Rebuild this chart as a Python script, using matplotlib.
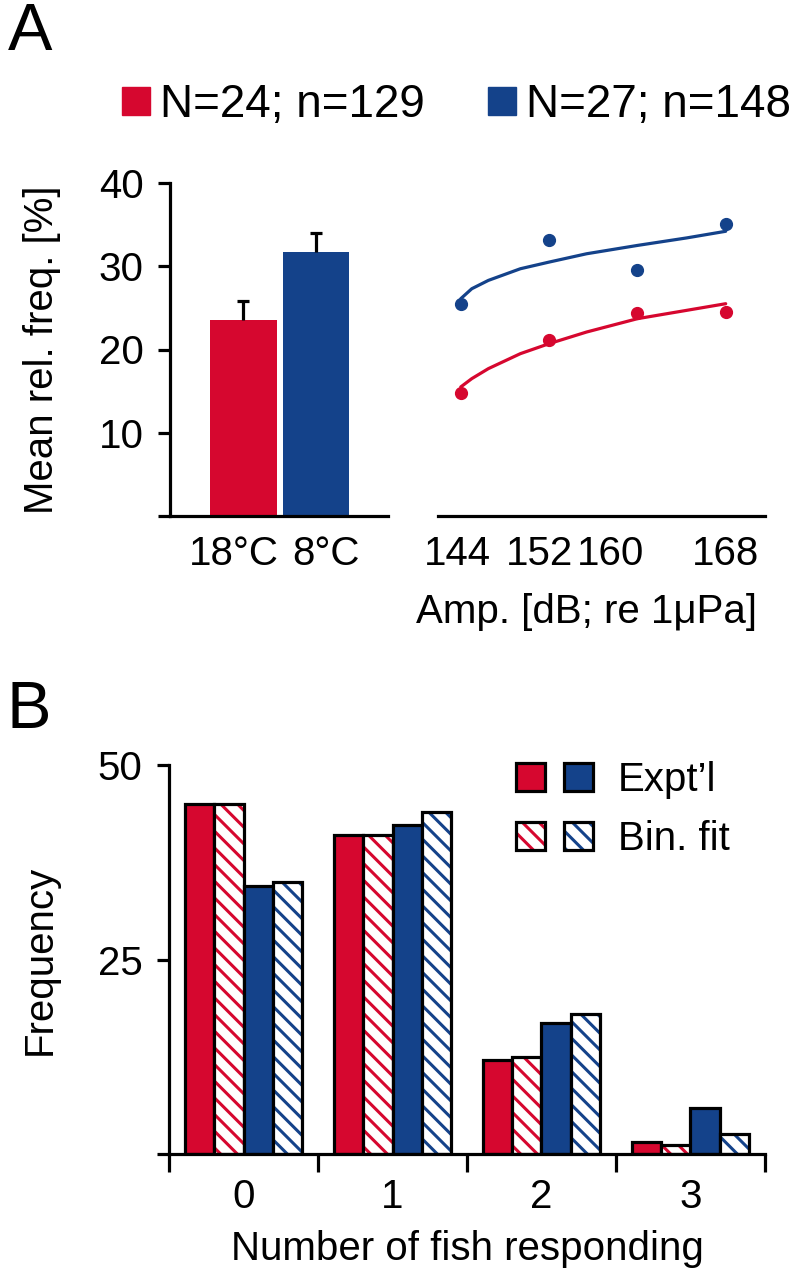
import numpy as np
import matplotlib
matplotlib.use("Agg")
import matplotlib.pyplot as plt
from matplotlib.patches import Patch
from matplotlib.legend_handler import HandlerTuple
from matplotlib.transforms import ScaledTranslation

RED = "#D6072F"
BLUE = "#14428A"

# panel A, bars (temperature)
temps = ["18°C", "8°C"]
temp_mean = [23.5, 31.7]
temp_err = [2.3, 2.3]

# panel A, points + fitted curves vs amplitude
amp_db = [144, 152, 160, 168]
amp_red = [14.8, 21.1, 24.4, 24.5]
amp_blue = [25.5, 33.1, 29.5, 35.1]
fit_db = [144, 145, 146.5, 149.4, 152, 155.4, 160, 164.45, 168]
fit_red = [15.5, 16.5, 17.7, 19.5, 20.7, 22.1, 23.7, 24.7, 25.5]
fit_blue = [26.1, 27.3, 28.3, 29.7, 30.5, 31.5, 32.5, 33.4, 34.2]

legend_a = ["N=24; n=129", "N=27; n=148"]

# panel B, frequency of number of fish responding
n_fish = [0, 1, 2, 3]
red_expt = [45.0, 41.0, 12.1, 1.6]
red_fit = [45.0, 41.0, 12.5, 1.15]
blue_expt = [34.4, 42.3, 16.8, 5.9]
blue_fit = [35.0, 44.0, 18.0, 2.55]

plt.rcParams["font.family"] = ["Liberation Sans", "DejaVu Sans"]
plt.rcParams["font.size"] = 29
plt.rcParams["hatch.linewidth"] = 2.2
LW = 2.3

W, H = 792, 1280
fig = plt.figure(figsize=(W / 100, H / 100), dpi=100)


def frac(x0, y0, x1, y1):
    return [x0 / W, 1 - y1 / H, (x1 - x0) / W, (y1 - y0) / H]


def shift_labels(labels, shifts):
    for lab, dx in zip(labels, shifts):
        lab.set_transform(lab.get_transform() + ScaledTranslation(dx / 100, 0, fig.dpi_scale_trans))


# ---------- panel A left: bars ----------
axl = fig.add_axes(frac(170, 183, 388, 516))
x = np.arange(len(temps))
axl.bar(x, temp_mean, width=0.92, color=[RED, BLUE])
_, caps, _ = axl.errorbar(x, temp_mean, yerr=[[0, 0], temp_err], fmt="none",
                          ecolor="black", elinewidth=LW, capsize=4, capthick=LW)
for c in caps:
    # only the upper cap is drawn in the original
    if np.allclose(c.get_ydata(), temp_mean):
        c.set_visible(False)
axl.set_xlim(-1.01, 1.99)
axl.set_ylim(0, 40)
axl.set_yticks([0, 10, 20, 30, 40])
axl.set_yticklabels(["", "10", "20", "30", "40"])
axl.set_xticks(x)
axl.set_xticklabels(temps)
axl.tick_params(axis="y", length=9, width=LW, pad=10)
axl.tick_params(axis="x", length=0, pad=14)
for s in ["top", "right"]:
    axl.spines[s].set_visible(False)
for s in ["left", "bottom"]:
    axl.spines[s].set_linewidth(LW)
axl.set_ylabel("Mean rel. freq. [%]")
axl.yaxis.set_label_coords(-0.50, 0.5)
shift_labels(axl.get_xticklabels(), [-10, 10])

# ---------- panel A right: amplitude ----------
axr = fig.add_axes(frac(438, 183, 765, 516))
axr.plot(fit_db, fit_blue, color=BLUE, lw=LW, solid_capstyle="round")
axr.plot(fit_db, fit_red, color=RED, lw=LW, solid_capstyle="round")
axr.plot(amp_db, amp_blue, "o", color=BLUE, ms=8.5, clip_on=False)
axr.plot(amp_db, amp_red, "o", color=RED, ms=8.5, clip_on=False)
axr.set_xlim(141.94, 171.56)
axr.set_ylim(0, 40)
axr.set_yticks([])
axr.set_xticks(amp_db)
axr.tick_params(axis="x", length=0, pad=14)
for s in ["top", "right", "left"]:
    axr.spines[s].set_visible(False)
axr.spines["bottom"].set_linewidth(LW)
axr.set_xlabel("Amp. [dB; re 1\u03bcPa]")
axr.xaxis.set_label_coords(0.454, -0.232)
shift_labels(axr.get_xticklabels(), [-3, -10, -27, 0])

fig.legend(handles=[Patch(color=RED), Patch(color=BLUE)], labels=legend_a,
           loc="center left", bbox_to_anchor=(122 / W, 1 - 105 / H), ncol=2,
           frameon=False, fontsize=33, handlelength=0.61, handleheight=0.57,
           handletextpad=0.22, columnspacing=1.37, borderpad=0, borderaxespad=0)

# ---------- panel B ----------
axb = fig.add_axes(frac(169, 765, 765, 1154))
xb = np.arange(len(n_fish))
w = 0.196
axb.bar(xb - 1.5 * w, red_expt, w, color=RED, edgecolor="black", lw=LW)
axb.bar(xb - 0.5 * w, red_fit, w, color="white", edgecolor=RED, lw=0, hatch="\\\\")
axb.bar(xb - 0.5 * w, red_fit, w, color="none", edgecolor="black", lw=LW)
axb.bar(xb + 0.5 * w, blue_expt, w, color=BLUE, edgecolor="black", lw=LW)
axb.bar(xb + 1.5 * w, blue_fit, w, color="white", edgecolor=BLUE, lw=0, hatch="\\\\")
axb.bar(xb + 1.5 * w, blue_fit, w, color="none", edgecolor="black", lw=LW)
axb.set_xlim(-0.5, 3.5)
axb.set_ylim(0, 50)
axb.set_yticks([0, 25, 50])
axb.set_yticklabels(["", "25", "50"])
axb.tick_params(axis="y", length=9, width=LW, pad=10)
axb.set_xticks(np.arange(-0.5, 4, 1))
axb.set_xticklabels([])
axb.set_xticks(xb, minor=True)
axb.set_xticklabels([str(n) for n in n_fish], minor=True)
axb.tick_params(axis="x", which="major", length=13, width=LW, direction="out")
axb.tick_params(axis="x", which="minor", length=0, pad=17)
for s in ["top", "right"]:
    axb.spines[s].set_visible(False)
for s in ["left", "bottom"]:
    axb.spines[s].set_linewidth(LW)
axb.set_ylabel("Frequency")
axb.yaxis.set_label_coords(-0.185, 0.5)
axb.set_xlabel("Number of fish responding", labelpad=10)

row1 = (Patch(facecolor=RED, edgecolor="black", lw=LW),
        Patch(facecolor=BLUE, edgecolor="black", lw=LW))
row2 = ((Patch(facecolor="white", edgecolor=RED, lw=0, hatch="\\\\"),
         Patch(facecolor="none", edgecolor="black", lw=LW)),
        (Patch(facecolor="white", edgecolor=BLUE, lw=0, hatch="\\\\"),
         Patch(facecolor="none", edgecolor="black", lw=LW)))
axb.legend([row1, row2], ["Expt\u2019l", "Bin. fit"],
           handler_map={row1: HandlerTuple(ndivide=None, pad=0.47),
                        row2: HandlerTuple(ndivide=None, pad=0.47)},
           loc="upper left", bbox_to_anchor=(516 / W, 1 - 761 / H),
           bbox_transform=fig.transFigure, frameon=False,
           handlelength=1.91, handleheight=0.7, handletextpad=0.62,
           labelspacing=0.52, borderpad=0, borderaxespad=0)

fig.text(8 / W, 1 - 2 / H, "A", fontsize=48, va="top", ha="left")
fig.text(6 / W, 1 - 680 / H, "B", fontsize=48, va="top", ha="left")

fig.savefig("out.png", dpi=100)
